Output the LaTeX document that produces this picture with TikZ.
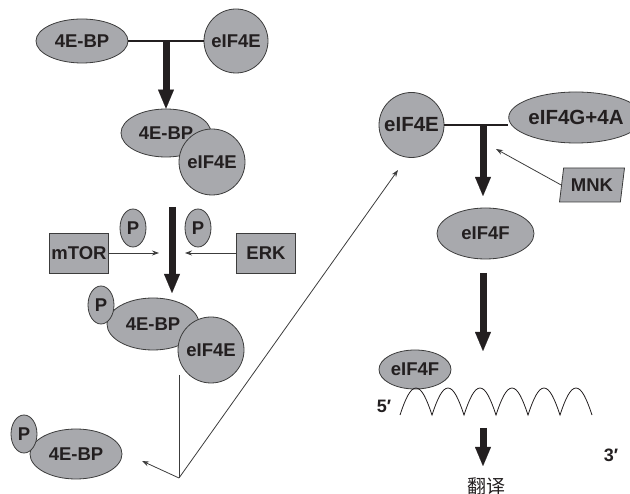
\documentclass[tikz,border=0pt]{standalone}
\usepackage{fontspec}
\setmainfont{Liberation Sans}
\newfontfamily\cjk{Noto Sans CJK SC}
\usetikzlibrary{shapes.geometric,arrows.meta}
\definecolor{molfill}{HTML}{A8A9AD}
\definecolor{molline}{HTML}{3C3C3C}
\definecolor{ink}{HTML}{231F20}
\tikzset{
  mol/.style={draw=molline, fill=molfill, line width=0.8pt, inner sep=0pt,
    text=ink, font=\bfseries\fontsize{18.5}{20}\selectfont},
  oval/.style={mol, ellipse},
  ball/.style={mol, circle},
  kinase/.style={mol, rectangle},
  phos/.style={oval, minimum width=26pt, minimum height=38pt},
  bar/.style={draw=ink, line width=1.8pt},
  bigarrow/.style={draw=ink, line width=7pt,
    -{Triangle[length=19pt, width=16pt, line width=0.01pt]}},
  thin/.style={draw=molline, line width=0.8pt},
  thinarrow/.style={thin, -{Stealth[length=7pt, width=5pt]}},
  endlabel/.style={text=ink, font=\bfseries\fontsize{18}{20}\selectfont, inner sep=0pt}
}
\begin{document}
\begin{tikzpicture}[x=1pt, y=-1pt]
\useasboundingbox (0,0) rectangle (630,494);

% --- 4E-BP binding to eIF4E ---
\node[oval, minimum width=92pt, minimum height=44pt] (bp1) at (82,41) {4E-BP};
\node[ball, minimum size=64pt] (e1) at (236,41) {eIF4E};
\draw[bar] (bp1.east) -- (e1.west);
\coordinate (j1) at (166,41);

\node[oval, minimum width=90pt, minimum height=48pt] (bp2) at (166,133) {4E-BP};
\node[ball, minimum size=66pt] (e2) at (212,162) {eIF4E};
\draw[bigarrow] (j1) -- (bp2.north);

% --- phosphorylation by mTOR and ERK ---
\node[phos] (p1) at (133,228) {P};
\node[phos] (p2) at (198,228) {P};
\node[kinase, minimum width=59pt, minimum height=40pt] (mtor) at (79,253) {mTOR};
\node[kinase, minimum width=59pt, minimum height=40pt] (erk) at (266,253) {ERK};
\coordinate (a2s) at (172,207);
\coordinate (a2e) at (172,293);
\draw[bigarrow] (a2s) -- (a2e);
\coordinate (mt) at (159,253);
\coordinate (et) at (185,253);
\draw[thinarrow] (mtor.east) -- (mt);
\draw[thinarrow] (erk.west) -- (et);

\node[oval, minimum width=92pt, minimum height=52pt] (bp3) at (153,324) {4E-BP};
\node[phos] (p3) at (101,305) {P};
\node[ball, minimum size=66pt] (e3) at (211,350) {eIF4E};

% --- release of phosphorylated 4E-BP and free eIF4E ---
\node[oval, minimum width=92pt, minimum height=50pt] (bp4) at (76,454) {4E-BP};
\node[phos] (p4) at (24,434) {P};
\coordinate (vtop) at (179,375);
\coordinate (split) at (179,478);
\coordinate (tobp) at (142,461);
\coordinate (toe) at (398,170);
\draw[thin] (vtop) -- (split);
\draw[thinarrow] (split) -- (tobp);
\draw[thinarrow] (split) -- (toe);

% --- eIF4F assembly ---
\node[ball, minimum size=65pt, font=\bfseries\fontsize{20.5}{22}\selectfont] (e4) at (411.5,125) {eIF4E};
\node[oval, minimum width=98pt, minimum height=51pt, font=\bfseries\fontsize{20.5}{22}\selectfont] (g) at (576,117.5) {eIF4G+4A};
\draw[bar] (e4.east) -- (e4.east -| g.west);
\coordinate (j2) at (483,125);
\node[mol, trapezium, trapezium left angle=72, trapezium right angle=108,
      trapezium stretches body, minimum width=65pt, minimum height=34pt] (mnk) at (592,185) {MNK};
\coordinate (mk) at (496,149);
\draw[thinarrow] (mnk.west) -- (mk);
\node[oval, minimum width=97pt, minimum height=51pt] (f1) at (485.5,233.5) {eIF4F};
\coordinate (a3e) at (483,196);
\draw[bigarrow] (j2) -- (a3e);
\coordinate (a4s) at (483,273);
\coordinate (a4e) at (483,351);
\draw[bigarrow] (a4s) -- (a4e);

% --- eIF4F on the mRNA ---
\node[oval, minimum width=72pt, minimum height=39pt] (f2) at (415,369.5) {eIF4F};
\draw[draw=ink, line width=0.8pt] (400,415)
  \foreach \k in {0,...,5} {
    .. controls ({400+32*\k+5},400) and ({400+32*\k+10},388) .. ({400+32*\k+16},388)
    .. controls ({400+32*\k+22},388) and ({400+32*\k+27},400) .. ({400+32*\k+32},415)
  };
\node[endlabel] (five) at (384,406) {5′};
\node[endlabel] (three) at (611,455) {3′};
\coordinate (a5s) at (483,428);
\coordinate (a5e) at (483,466);
\draw[bigarrow] (a5s) -- (a5e);
\node[text=ink, inner sep=0pt, font=\cjk\fontsize{19}{21}\selectfont] (fanyi) at (486,486) {翻译};
\end{tikzpicture}
\end{document}
